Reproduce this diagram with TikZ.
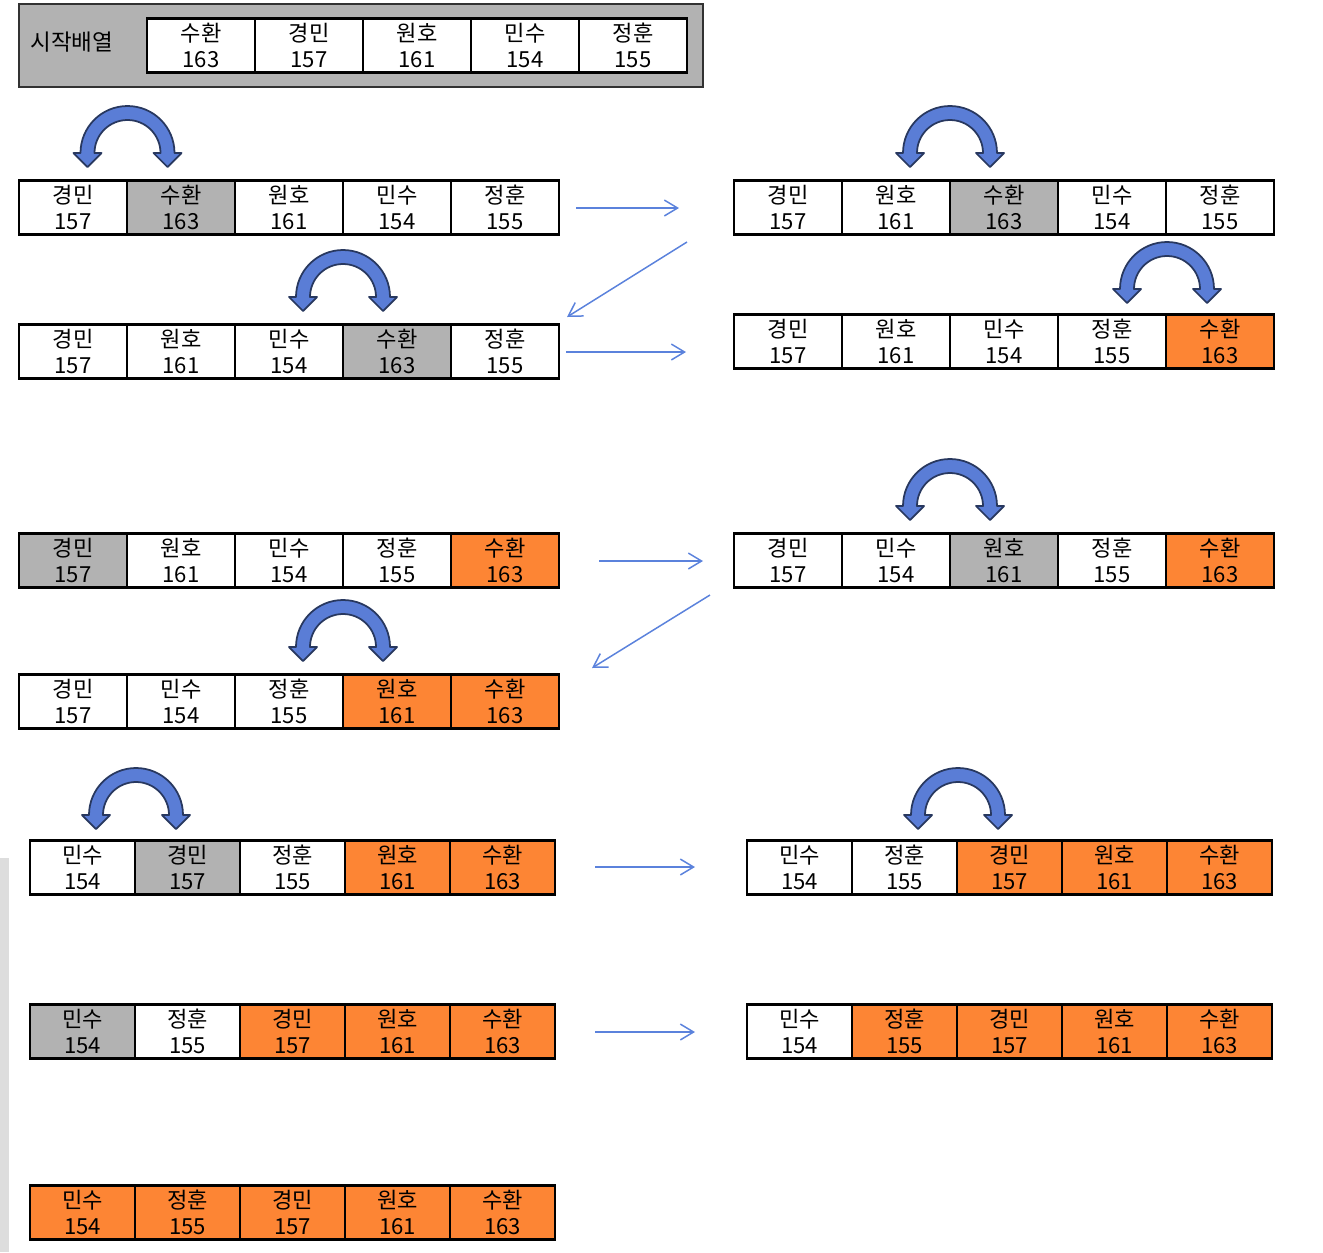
\documentclass[tikz,border=0pt]{standalone}
\usepackage{fontspec}
\setmainfont{Noto Sans CJK KR}
\usetikzlibrary{arrows.meta}
\definecolor{cgray}{RGB}{178,178,178}
\definecolor{corange}{RGB}{253,133,52}
\definecolor{afill}{RGB}{90,125,214}
\definecolor{aline}{RGB}{40,56,95}
\definecolor{thinblue}{RGB}{91,130,220}
\definecolor{strip}{RGB}{221,221,221}

\newcommand\cellrow[5]{%
  \foreach \nm/\vl/\fc [count=\i] in {#5} {
    \node[cellbox, fill=\fc, minimum width=#4*0.02cm] (#1-\i) at ({#2+(\i-0.5)*#4},{#3+26.5}) {\nm\\\vl};
  }%
}

\begin{document}
\begin{tikzpicture}[x=0.02cm,y=-0.02cm,
  cellbox/.style={draw=black, line width=1.2pt, inner sep=0pt, align=center,
    minimum height=1.08cm, font=\fontsize{12.6}{14.6}\selectfont},
  flow/.style={draw=thinblue, line width=0.85pt, -{Straight Barb[length=7.5pt,width=9pt,line width=0.85pt]}},
  swap/.pic={
    \filldraw[fill=afill, draw=aline, line width=1pt, line join=round]
      (-47,0) arc[start angle=180, end angle=360, radius=47]
      -- (54,0) -- (40,14) -- (26,0) -- (33,0)
      arc[start angle=360, end angle=180, radius=33]
      -- (-26,0) -- (-40,14) -- (-54,0) -- cycle;
  }
]
\useasboundingbox (0,0) rectangle (1323,1252);
\fill[strip] (0,858) rectangle (9,1252);

% header
\node[draw={rgb,255:red,50;green,50;blue,50}, line width=1.2pt, fill=cgray, minimum width=13.68cm, minimum height=1.66cm, inner sep=0pt] (H) at (361,45.5) {};
\node[font=\fontsize{12.8}{14}\selectfont] (Hlabel) at (72,42) {시작배열};
\cellrow{Hc}{147}{19}{108}{수환/163/white, 경민/157/white, 원호/161/white, 민수/154/white, 정훈/155/white}

% rows
\cellrow{L1}{19}{181}{108}{경민/157/white, 수환/163/cgray, 원호/161/white, 민수/154/white, 정훈/155/white}
\cellrow{R1}{734}{181}{108}{경민/157/white, 원호/161/white, 수환/163/cgray, 민수/154/white, 정훈/155/white}
\cellrow{L2}{19}{325}{108}{경민/157/white, 원호/161/white, 민수/154/white, 수환/163/cgray, 정훈/155/white}
\cellrow{R2}{734}{315}{108}{경민/157/white, 원호/161/white, 민수/154/white, 정훈/155/white, 수환/163/corange}
\cellrow{L3}{19}{534}{108}{경민/157/cgray, 원호/161/white, 민수/154/white, 정훈/155/white, 수환/163/corange}
\cellrow{R3}{734}{534}{108}{경민/157/white, 민수/154/white, 원호/161/cgray, 정훈/155/white, 수환/163/corange}
\cellrow{L4}{19}{675}{108}{경민/157/white, 민수/154/white, 정훈/155/white, 원호/161/corange, 수환/163/corange}
\cellrow{L5}{30}{841}{105}{민수/154/white, 경민/157/cgray, 정훈/155/white, 원호/161/corange, 수환/163/corange}
\cellrow{R5}{747}{841}{105}{민수/154/white, 정훈/155/white, 경민/157/corange, 원호/161/corange, 수환/163/corange}
\cellrow{L6}{30}{1005}{105}{민수/154/cgray, 정훈/155/white, 경민/157/corange, 원호/161/corange, 수환/163/corange}
\cellrow{R6}{747}{1005}{105}{민수/154/white, 정훈/155/corange, 경민/157/corange, 원호/161/corange, 수환/163/corange}
\cellrow{L7}{30}{1186}{105}{민수/154/corange, 정훈/155/corange, 경민/157/corange, 원호/161/corange, 수환/163/corange}

% swap arrows
\pic at (127.5,153) {swap};
\pic at (950,153) {swap};
\pic at (343,297) {swap};
\pic at (1167,289) {swap};
\pic at (950,506) {swap};
\pic at (343,647) {swap};
\pic at (136,815) {swap};
\pic at (958,815) {swap};

% flow arrows
\coordinate (f1s) at (576,208); \coordinate (f1e) at (679,208);
\coordinate (d1s) at (687,242); \coordinate (d1e) at (567,317);
\coordinate (f2s) at (566,352); \coordinate (f2e) at (686,352);
\coordinate (f3s) at (599,561); \coordinate (f3e) at (703,561);
\coordinate (d2s) at (710,595); \coordinate (d2e) at (592,668);
\coordinate (f5s) at (595,867); \coordinate (f5e) at (695,867);
\coordinate (f6s) at (595,1032); \coordinate (f6e) at (695,1032);
\draw[flow] (f1s) -- (f1e);
\draw[flow] (d1s) -- (d1e);
\draw[flow] (f2s) -- (f2e);
\draw[flow] (f3s) -- (f3e);
\draw[flow] (d2s) -- (d2e);
\draw[flow] (f5s) -- (f5e);
\draw[flow] (f6s) -- (f6e);
\end{tikzpicture}
\end{document}
